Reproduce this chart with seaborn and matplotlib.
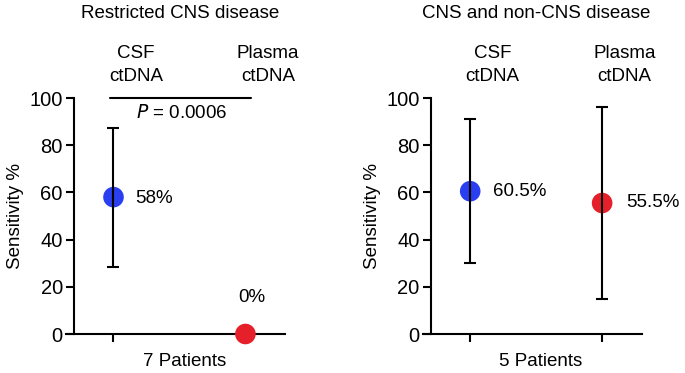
import matplotlib
matplotlib.use("Agg")
import matplotlib.pyplot as plt
import seaborn as sns
import pandas as pd

sns.set_theme(style="ticks")
plt.rcParams['font.family'] = ['Liberation Sans', 'DejaVu Sans']
plt.rcParams.update({"text.color": "black", "axes.labelcolor": "black",
                     "xtick.color": "black", "ytick.color": "black",
                     "xtick.labelcolor": "black", "ytick.labelcolor": "black"})

# ---- data ----
panel_titles = ["Restricted CNS disease", "CNS and non-CNS disease"]
patients_labels = ["7 Patients", "5 Patients"]
categories = ["CSF\nctDNA", "Plasma\nctDNA"]
left_values = [58, 0]
left_low = [28.5, None]
left_high = [87.5, None]
left_labels = ["58%", "0%"]
right_values = [60.5, 55.5]
right_low = [30, 15]
right_high = [91, 96]
right_labels = ["60.5%", "55.5%"]
p_text = "0.0006"
yticks = [0, 20, 40, 60, 80, 100]
colors = ["#2a3ff0", "#e6202a"]

fig = plt.figure(figsize=(6.85, 3.73), dpi=100)
axL = fig.add_axes([66/685, 39/373, 219/685, 236/373])
axR = fig.add_axes([422.7/685, 39/373, 219/685, 236/373])

FS = 13.5

def setup(ax, title, xlabel, ticks):
    ax.set_xlim(-0.36, 1.30)
    ax.set_ylim(0, 100)
    for s in ["top", "right"]:
        ax.spines[s].set_visible(False)
    ax.spines["left"].set_position(("data", -0.30))
    ax.spines["left"].set_bounds(0, 100)
    for s in ["left", "bottom"]:
        ax.spines[s].set_linewidth(1.5)
        ax.spines[s].set_color("black")
    ax.set_yticks(yticks)
    ax.set_yticklabels([str(v) for v in yticks], fontsize=FS + 1)
    ax.set_xticks(ticks)
    ax.set_xticklabels([""] * len(ticks))
    ax.tick_params(axis="both", length=6, width=1.5, color="black", pad=2,
                   labelcolor="black")
    ax.text(0.54, -0.08, xlabel, transform=ax.transAxes, ha="center", va="top", fontsize=FS)
    ax.text(0.52, 1.36, title, transform=ax.transAxes, ha="center", va="center", fontsize=FS)
    for i, c in enumerate(categories):
        ax.text(i + 0.17, 114, c, ha="center", va="center", fontsize=FS, linespacing=1.5)
    ax.set_facecolor("none")

def draw(ax, values, lows, highs, labels, label_pos):
    df = pd.DataFrame({"x": [0, 1], "y": values, "cat": categories})
    sns.scatterplot(data=df, x="x", y="y", hue="cat", palette=colors, s=220,
                    edgecolor="none", ax=ax, legend=False, clip_on=False, zorder=3)
    for i in range(2):
        if lows[i] is not None:
            ax.errorbar([i], [values[i]],
                        yerr=[[values[i] - lows[i]], [highs[i] - values[i]]],
                        fmt="none", ecolor="black", elinewidth=1.5, capsize=4,
                        capthick=1.5, zorder=4, clip_on=False)
    for (tx, ty, ha), lab in zip(label_pos, labels):
        ax.text(tx, ty, lab, ha=ha, va="center", fontsize=FS)
    ax.set_xlabel("")
    ax.set_ylabel("Sensitivity %", fontsize=FS, labelpad=4, color="black")

setup(axL, panel_titles[0], patients_labels[0], [0])
draw(axL, left_values, left_low, left_high, left_labels,
     [(0.165, 57.5, "left"), (1.05, 15.5, "center")])
axL.plot([-0.03, 1.04], [100, 100], color="black", lw=1.5, clip_on=False)
axL.text(0.52, 93.5, "$P$ = " + p_text, ha="center", va="center", fontsize=FS)

setup(axR, panel_titles[1], patients_labels[1], [0, 1])
draw(axR, right_values, right_low, right_high, right_labels,
     [(0.17, 60.3, "left"), (1.185, 55.8, "left")])

fig.savefig("out.png", dpi=100)
